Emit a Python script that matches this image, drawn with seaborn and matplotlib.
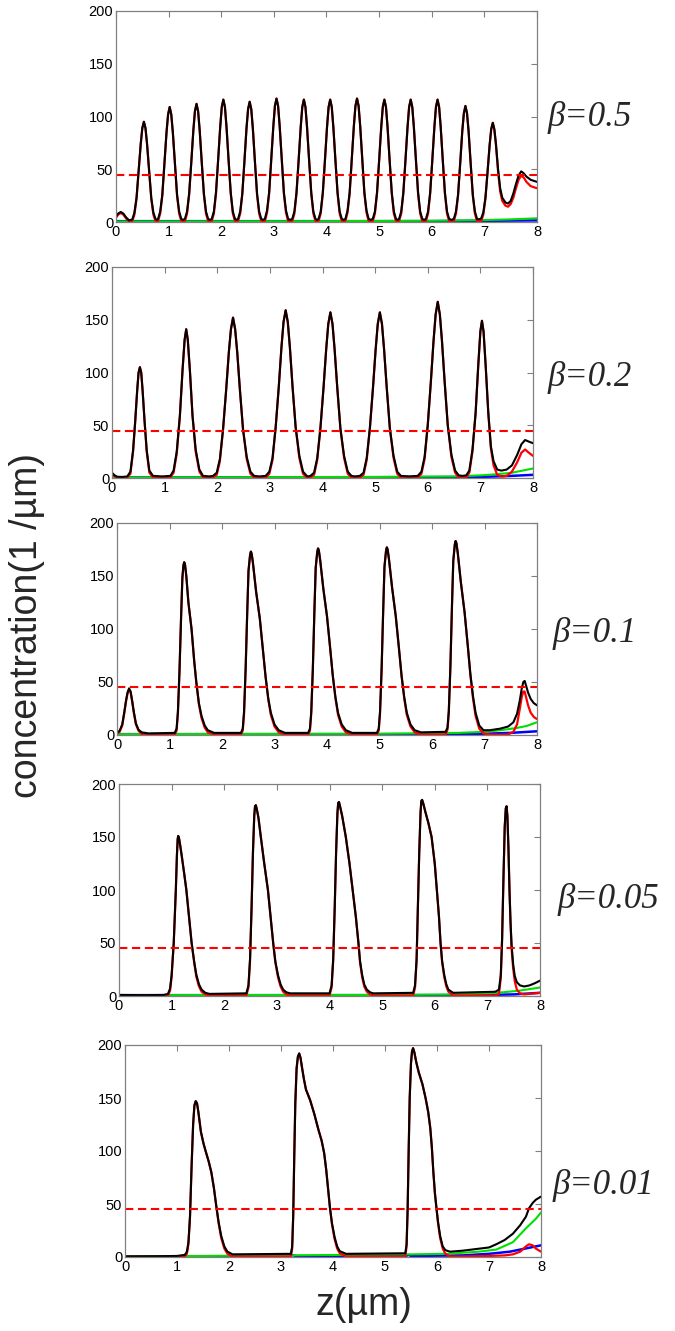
import matplotlib
matplotlib.use("Agg")
import matplotlib.pyplot as plt
import seaborn as sns

# ---- donnees ----
betas = ["β=0.5", "β=0.2", "β=0.1", "β=0.05", "β=0.01"]
threshold = 45
x_ticks = [0, 1, 2, 3, 4, 5, 6, 7, 8]
y_ticks = [0, 50, 100, 150, 200]

# beta = 0.5
z1 = [0.00, 0.04, 0.09, 0.14, 0.19, 0.25,
      0.31, 0.35, 0.39, 0.43, 0.47, 0.50, 0.53, 0.56, 0.59, 0.63, 0.67, 0.71, 0.75, 0.775,
      0.80, 0.84, 0.88, 0.92, 0.96, 0.99, 1.02, 1.05, 1.08, 1.12, 1.16, 1.20, 1.24, 1.275,
      1.31, 1.35, 1.39, 1.43, 1.47, 1.50, 1.53, 1.56, 1.59, 1.63, 1.67, 1.71, 1.75, 1.785,
      1.82, 1.86, 1.90, 1.94, 1.98, 2.01, 2.04, 2.07, 2.10, 2.14, 2.18, 2.22, 2.26, 2.29,
      2.32, 2.36, 2.40, 2.44, 2.48, 2.51, 2.54, 2.57, 2.60, 2.64, 2.68, 2.72, 2.76, 2.795,
      2.83, 2.87, 2.91, 2.95, 2.99, 3.02, 3.05, 3.08, 3.11, 3.15, 3.19, 3.23, 3.27, 3.31,
      3.35, 3.39, 3.43, 3.47, 3.51, 3.54, 3.57, 3.60, 3.63, 3.67, 3.71, 3.75, 3.79, 3.82,
      3.85, 3.89, 3.93, 3.97, 4.01, 4.04, 4.07, 4.10, 4.13, 4.17, 4.21, 4.25, 4.29, 4.325,
      4.36, 4.40, 4.44, 4.48, 4.52, 4.55, 4.58, 4.61, 4.64, 4.68, 4.72, 4.76, 4.80, 4.84,
      4.88, 4.92, 4.96, 5.00, 5.04, 5.07, 5.10, 5.13, 5.16, 5.20, 5.24, 5.28, 5.32, 5.35,
      5.38, 5.42, 5.46, 5.50, 5.54, 5.57, 5.60, 5.63, 5.66, 5.70, 5.74, 5.78, 5.82, 5.855,
      5.89, 5.93, 5.97, 6.01, 6.05, 6.08, 6.11, 6.14, 6.17, 6.21, 6.25, 6.29, 6.33, 6.375,
      6.42, 6.46, 6.50, 6.54, 6.58, 6.61, 6.64, 6.67, 6.70, 6.74, 6.78, 6.82, 6.86, 6.90,
      6.94, 6.98, 7.02, 7.06, 7.10, 7.13, 7.16, 7.19, 7.22, 7.26, 7.30, 7.34,
      7.40, 7.45, 7.50, 7.55, 7.60, 7.65, 7.70, 7.75, 7.80, 7.88, 8.00]
black1 = [5, 8, 9.5, 8, 4.5, 1.5,
          2.5, 9, 23, 48, 74, 89, 95, 89, 74, 48, 23, 9, 3, 2,
          3, 10, 26, 55, 85, 102, 109, 102, 85, 55, 26, 10, 3, 2,
          3, 10, 27, 56, 87, 105, 112, 105, 87, 56, 27, 10, 3, 2,
          3, 10, 28, 58, 90, 109, 116, 109, 90, 58, 28, 10, 3, 2,
          3, 10, 27, 57, 89, 107, 114, 107, 89, 57, 27, 10, 3, 2,
          3, 11, 28, 59, 91, 110, 117, 110, 91, 59, 28, 11, 3, 2,
          3, 10, 28, 58, 90, 109, 116, 109, 90, 58, 28, 10, 3, 2,
          3, 10, 28, 58, 90, 109, 116, 109, 90, 58, 28, 10, 3, 2,
          3, 11, 28, 59, 91, 110, 117, 110, 91, 59, 28, 11, 3, 2,
          3, 10, 28, 58, 90, 109, 116, 109, 90, 58, 28, 10, 3, 2,
          3, 10, 28, 58, 90, 109, 116, 109, 90, 58, 28, 10, 3, 2,
          3, 10, 28, 58, 90, 109, 116, 109, 90, 58, 28, 10, 3, 2,
          3, 10, 26, 55, 86, 103, 110, 103, 86, 55, 26, 10, 3, 2.5,
          3.5, 9, 23, 47, 73, 88, 94, 88, 74, 50, 32, 23,
          18.5, 17.5, 20, 27, 36, 44, 48, 46, 43, 40, 38]
red1 = [4, 7, 8.5, 7, 3.5, 0.5,
        1, 7, 22, 48, 74, 89, 95, 89, 74, 48, 22, 7, 1, 0.3,
        1, 8, 25, 55, 85, 102, 109, 102, 85, 55, 25, 8, 1, 0.3,
        1, 8, 26, 56, 87, 105, 112, 105, 87, 56, 26, 8, 1, 0.3,
        1, 8, 27, 58, 90, 109, 116, 109, 90, 58, 27, 8, 1, 0.3,
        1, 8, 26, 57, 89, 107, 114, 107, 89, 57, 26, 8, 1, 0.3,
        1, 9, 27, 59, 91, 110, 117, 110, 91, 59, 27, 9, 1, 0.3,
        1, 8, 27, 58, 90, 109, 116, 109, 90, 58, 27, 8, 1, 0.3,
        1, 8, 27, 58, 90, 109, 116, 109, 90, 58, 27, 8, 1, 0.3,
        1, 9, 27, 59, 91, 110, 117, 110, 91, 59, 27, 9, 1, 0.3,
        1, 8, 27, 58, 90, 109, 116, 109, 90, 58, 27, 8, 1, 0.3,
        1, 8, 27, 58, 90, 109, 116, 109, 90, 58, 27, 8, 1, 0.3,
        1, 8, 27, 58, 90, 109, 116, 109, 90, 58, 27, 8, 1, 0.3,
        1, 8, 25, 55, 86, 103, 110, 103, 86, 55, 25, 8, 1, 0.5,
        1, 7, 22, 47, 73, 88, 94, 87, 73, 48, 29, 20,
        15.5, 14.5, 17, 23, 32, 40, 44, 42, 38, 34, 32]
zg1 = [0, 4, 6, 7, 7.5, 8]
green1 = [0.5, 0.8, 1.2, 1.8, 2.5, 3.5]
zb1 = [0, 6, 8]
blue1 = [0.8, 0.8, 1.5]

# beta = 0.2
z2 = [0.00, 0.05, 0.10, 0.20,
      0.29, 0.35, 0.40, 0.44, 0.48, 0.505, 0.53, 0.555, 0.58, 0.62, 0.66, 0.71, 0.78, 0.95,
      1.11, 1.17, 1.23, 1.29, 1.34, 1.38, 1.41, 1.44, 1.48, 1.53, 1.59, 1.66, 1.73, 1.85,
      1.92, 1.99, 2.05, 2.11, 2.17, 2.22, 2.26, 2.30, 2.34, 2.38, 2.43, 2.49, 2.56, 2.63, 2.70, 2.80,
      2.92, 2.99, 3.05, 3.11, 3.17, 3.22, 3.26, 3.30, 3.34, 3.38, 3.43, 3.49, 3.56, 3.63, 3.70, 3.725,
      3.77, 3.84, 3.90, 3.96, 4.02, 4.07, 4.11, 4.15, 4.19, 4.23, 4.28, 4.34, 4.41, 4.48, 4.55, 4.62,
      4.71, 4.78, 4.84, 4.90, 4.96, 5.01, 5.05, 5.09, 5.13, 5.17, 5.22, 5.28, 5.35, 5.42, 5.49, 5.65,
      5.81, 5.88, 5.94, 6.00, 6.06, 6.11, 6.15, 6.19, 6.23, 6.27, 6.32, 6.38, 6.45, 6.52, 6.59, 6.66,
      6.73, 6.79, 6.85, 6.91, 6.96, 7.00, 7.03, 7.06, 7.10, 7.15, 7.20, 7.25, 7.32,
      7.40, 7.50, 7.60, 7.70, 7.78, 7.85, 7.92, 8.00]
black2 = [5, 2.5, 1.2, 1,
          1.5, 6, 26, 53, 84, 100, 105, 100, 84, 53, 26, 7, 2, 1.5,
          2, 7, 25, 59, 102, 131, 141, 131, 102, 59, 27, 8, 2, 1.5,
          2, 5, 18, 46, 84, 119, 141, 152, 141, 119, 84, 46, 20, 6, 2, 1.5,
          2, 6, 19, 48, 87, 124, 148, 159, 148, 124, 87, 48, 21, 6, 2, 1.5,
          2, 5, 19, 47, 86, 122, 146, 157, 146, 122, 86, 47, 21, 6, 2, 1.5,
          2, 5, 19, 47, 86, 122, 146, 157, 146, 122, 86, 47, 21, 6, 2, 1.5,
          2, 6, 20, 50, 92, 130, 155, 167, 155, 130, 92, 50, 22, 7, 2.5, 2,
          2.5, 7, 27, 62, 107, 139, 149, 139, 107, 62, 30, 16, 8,
          7, 8, 12, 22, 32, 36, 34.5, 33]
red2 = [4, 1.5, 0.6, 0.3,
        0.5, 4, 25, 53, 84, 100, 105, 100, 84, 53, 25, 5, 0.5, 0.3,
        0.5, 5, 23, 59, 102, 131, 141, 131, 102, 59, 25, 6, 0.5, 0.3,
        0.5, 3, 16, 46, 84, 119, 141, 152, 141, 119, 84, 46, 18, 4, 0.5, 0.3,
        0.5, 4, 17, 48, 87, 124, 148, 159, 148, 124, 87, 48, 19, 4, 0.5, 0.3,
        0.5, 3, 17, 47, 86, 122, 146, 157, 146, 122, 86, 47, 19, 4, 0.5, 0.3,
        0.5, 3, 17, 47, 86, 122, 146, 157, 146, 122, 86, 47, 19, 4, 0.5, 0.3,
        0.5, 4, 18, 50, 92, 130, 155, 167, 155, 130, 92, 50, 20, 5, 0.5, 0.3,
        0.5, 5, 25, 62, 107, 139, 149, 139, 107, 62, 28, 12, 3,
        1.5, 2, 6, 15, 24, 27, 24, 21]
zg2 = [0, 5.0, 6.5, 7.0, 7.3, 7.6, 8.0]
green2 = [0.5, 1, 1.5, 2.5, 3.5, 5, 9]
zb2 = [0, 6, 7, 7.5, 8]
blue2 = [0.5, 0.8, 1, 1.8, 3]

# beta = 0.1
z3 = [0.00, 0.05, 0.10, 0.14, 0.17, 0.20, 0.23, 0.26, 0.29, 0.32, 0.36, 0.41, 0.47, 0.60,
      1.10, 1.135, 1.16, 1.19, 1.22, 1.245, 1.265, 1.28, 1.295, 1.32, 1.36, 1.42, 1.47, 1.51,
      1.56, 1.61, 1.67, 1.73, 1.85,
      2.36, 2.395, 2.42, 2.45, 2.48, 2.505, 2.535, 2.55, 2.565, 2.59, 2.65, 2.72, 2.78, 2.83,
      2.88, 2.93, 3.00, 3.08, 3.20,
      3.64, 3.675, 3.70, 3.73, 3.76, 3.785, 3.815, 3.83, 3.845, 3.87, 3.93, 4.00, 4.06, 4.11,
      4.16, 4.21, 4.28, 4.36, 4.48,
      4.95, 4.985, 5.01, 5.04, 5.07, 5.095, 5.125, 5.14, 5.155, 5.18, 5.24, 5.31, 5.37, 5.42,
      5.47, 5.52, 5.59, 5.67, 5.79,
      6.26, 6.295, 6.32, 6.35, 6.38, 6.405, 6.435, 6.45, 6.465, 6.49, 6.55, 6.62, 6.68, 6.73,
      6.78, 6.83, 6.90, 6.98,
      7.10, 7.30, 7.45, 7.55, 7.62, 7.67, 7.71, 7.74, 7.765, 7.79, 7.83, 7.88, 7.94, 8.00]
black3 = [2, 4, 10, 22, 32, 40, 44, 41, 32, 22, 11, 5, 2.5, 1.5,
          2, 6, 22, 60, 110, 148, 160, 163, 161, 150, 125, 100, 70, 50, 30, 18, 9, 4.5, 2,
          2, 6, 22, 62, 115, 155, 170, 173, 171, 162, 135, 110, 80, 55, 35, 21, 10, 4.5, 2,
          2, 6, 22, 62, 117, 158, 173, 176, 174, 165, 138, 112, 82, 56, 36, 21, 10, 4.5, 2,
          2, 6, 22, 62, 117, 159, 174, 177, 175, 166, 139, 112, 82, 56, 36, 21, 10, 4.5, 2.5,
          3, 7, 23, 64, 121, 164, 180, 183, 181, 172, 144, 116, 85, 58, 37, 21, 9, 4.5,
          4.5, 6, 8, 12, 20, 32, 44, 50, 51, 47, 40, 34, 30, 28]
red3 = [1, 3, 9, 21, 31, 39, 43, 40, 31, 21, 10, 4, 1, 0.3,
        0.5, 4, 20, 60, 110, 148, 160, 163, 161, 150, 125, 100, 70, 50, 29, 16, 7, 2.5, 0.5,
        0.5, 4, 20, 62, 115, 155, 170, 173, 171, 162, 135, 110, 80, 55, 34, 19, 8, 2.5, 0.5,
        0.5, 4, 20, 62, 117, 158, 173, 176, 174, 165, 138, 112, 82, 56, 35, 19, 8, 2.5, 0.5,
        0.5, 4, 20, 62, 117, 159, 174, 177, 175, 166, 139, 112, 82, 56, 35, 19, 8, 2.5, 0.5,
        0.5, 5, 21, 64, 121, 164, 180, 183, 181, 172, 144, 116, 85, 57, 35, 18, 6, 1.5,
        0.5, 0.3, 0.5, 3, 10, 24, 36, 41, 41, 36, 28, 21, 17, 15]
zg3 = [0, 5, 6.5, 7.0, 7.3, 7.6, 7.8, 8.0]
green3 = [0.8, 1.2, 2, 3, 4.5, 6.5, 8.5, 12]
zb3 = [0, 6, 7, 7.5, 8]
blue3 = [0.8, 0.8, 1.2, 2, 3.5]

# beta = 0.05
z4 = [0.00, 0.50, 0.85,
      0.93, 0.97, 1.00, 1.04, 1.08, 1.10, 1.115, 1.125, 1.14, 1.16, 1.19, 1.24, 1.28, 1.33,
      1.38, 1.43, 1.47, 1.52, 1.57, 1.64, 1.72,
      2.42, 2.46, 2.49, 2.52, 2.545, 2.57, 2.585, 2.60, 2.62, 2.65, 2.69, 2.76, 2.83, 2.88,
      2.93, 2.97, 3.02, 3.07, 3.12, 3.18, 3.25,
      4.00, 4.04, 4.07, 4.10, 4.125, 4.15, 4.165, 4.18, 4.20, 4.24, 4.31, 4.38, 4.44, 4.50,
      4.55, 4.58, 4.62, 4.66, 4.71, 4.77, 4.83,
      5.59, 5.625, 5.655, 5.68, 5.705, 5.73, 5.745, 5.76, 5.78, 5.82, 5.88, 5.94, 6.00, 6.04,
      6.08, 6.11, 6.14, 6.18, 6.22, 6.26, 6.35,
      7.15, 7.22, 7.255, 7.28, 7.305, 7.33, 7.35, 7.365, 7.38, 7.40, 7.42, 7.44, 7.46, 7.49,
      7.52, 7.56, 7.62, 7.70, 7.80, 7.90, 8.00]
black4 = [1, 0.8, 1,
          2, 7, 20, 50, 100, 132, 148, 151, 149, 143, 133, 115, 100, 75,
          50, 32, 20, 11, 6, 3, 2,
          2.5, 10, 35, 85, 135, 170, 179, 180, 176, 168, 152, 125, 100, 75,
          50, 33, 20, 11, 6, 3.5, 2.5,
          2.5, 10, 35, 85, 135, 172, 182, 183, 179, 170, 150, 125, 100, 75,
          50, 33, 20, 11, 6, 3.5, 2.5,
          3, 10, 35, 85, 135, 173, 184, 185, 182, 174, 163, 150, 125, 100,
          75, 50, 33, 20, 11, 6, 3,
          4, 6, 20, 55, 110, 160, 177, 179, 170, 140, 100, 70, 48, 30,
          19, 13, 10, 9, 10, 12, 14.5]
red4 = [0.5, 0.3, 0.5,
        0.5, 5, 18, 50, 100, 132, 148, 151, 149, 143, 133, 115, 100, 75,
        50, 31, 18, 9, 4, 1.5, 0.5,
        0.5, 8, 33, 85, 135, 170, 179, 180, 176, 168, 152, 125, 100, 75,
        50, 32, 18, 9, 4, 1.5, 0.5,
        0.5, 8, 33, 85, 135, 172, 182, 183, 179, 170, 150, 125, 100, 75,
        50, 32, 18, 9, 4, 1.5, 0.5,
        0.5, 8, 33, 85, 135, 173, 184, 185, 182, 174, 163, 150, 125, 100,
        75, 50, 32, 18, 9, 4, 0.5,
        0.5, 2, 17, 53, 110, 160, 177, 179, 170, 140, 100, 68, 45, 26,
        14, 6, 2.5, 1.5, 2, 2.5, 3]
zg4 = [0, 5, 6.5, 7.0, 7.3, 7.6, 7.8, 8.0]
green4 = [0.8, 1, 1.5, 2.5, 3.5, 5, 6.5, 8]
zb4 = [0, 6, 7, 7.5, 8]
blue4 = [0.8, 0.8, 1, 1.5, 3]

# beta = 0.01
z5 = [0.00, 0.60, 1.00,
      1.15, 1.19, 1.22, 1.25, 1.28, 1.31, 1.335, 1.36, 1.385, 1.41, 1.46, 1.51, 1.55, 1.61,
      1.66, 1.71, 1.75, 1.80, 1.85, 1.91, 1.97, 2.07,
      3.19, 3.215, 3.235, 3.255, 3.275, 3.30, 3.325, 3.35, 3.375, 3.40, 3.44, 3.48, 3.56, 3.64,
      3.72, 3.78, 3.83, 3.87, 3.91, 3.94, 3.98, 4.03, 4.08, 4.13, 4.25,
      5.39, 5.415, 5.435, 5.455, 5.475, 5.50, 5.52, 5.54, 5.565, 5.60, 5.65, 5.72, 5.78, 5.83,
      5.87, 5.90, 5.93, 5.96, 5.99, 6.02, 6.06, 6.11, 6.16, 6.25,
      6.50, 7.00, 7.14, 7.30, 7.46, 7.60, 7.71, 7.77, 7.84, 7.90, 8.00]
black5 = [0.5, 0.7, 1,
          2, 5, 14, 38, 85, 125, 143, 147, 145, 137, 118, 107, 100, 90,
          80, 65, 50, 33, 20, 10, 5, 2.5,
          3, 10, 40, 95, 145, 178, 189, 192, 188, 180, 168, 158, 148, 135,
          120, 110, 98, 82, 62, 47, 32, 19, 10, 5.5, 3,
          3.5, 12, 45, 100, 150, 183, 194, 197, 193, 184, 174, 163, 150, 137,
          122, 104, 80, 60, 46, 33, 20, 10, 6.5, 5,
          6, 9, 12, 16, 22, 30, 38, 46, 51, 54, 57]
red5 = [0.3, 0.3, 0.3,
        0.5, 3, 12, 38, 85, 125, 143, 147, 145, 137, 118, 107, 100, 90,
        80, 65, 50, 32, 18, 8, 3, 0.5,
        0.5, 8, 38, 95, 145, 178, 189, 192, 188, 180, 168, 158, 148, 135,
        120, 110, 98, 82, 62, 47, 31, 17, 8, 3.5, 0.5,
        0.5, 10, 43, 100, 150, 183, 194, 197, 193, 184, 174, 163, 150, 137,
        122, 104, 80, 60, 46, 32, 18, 8, 3, 0.5,
        0.5, 1, 1.2, 1.5, 2.5, 5, 10, 12, 11, 8, 5]
zg5 = [0, 3, 5.5, 6.2, 6.8, 7.14, 7.46, 7.71, 7.9, 8.0]
green5 = [0.5, 1.5, 2.5, 3, 5, 7, 14, 27, 36, 42]
zb5 = [0, 3.1, 3.2, 3.3, 5.4, 5.45, 5.5, 6.5, 7.0, 7.4, 7.7, 8.0]
blue5 = [0.5, 0.8, 2, 0.8, 1, 2, 1, 1.5, 3, 5, 8, 11]

panels = [
    (z1, black1, red1, zg1, green1, zb1, blue1),
    (z2, black2, red2, zg2, green2, zb2, blue2),
    (z3, black3, red3, zg3, green3, zb3, blue3),
    (z4, black4, red4, zg4, green4, zb4, blue4),
    (z5, black5, red5, zg5, green5, zb5, blue5),
]

# ---- mise en page (pixels: gauche, haut, droite, bas) ----
W, H = 675, 1331
boxes = [(116, 11, 537, 222), (112, 267, 533, 478), (117, 523, 537, 735),
         (119, 784, 540, 996), (125, 1045, 541, 1257)]
beta_pos = [(548, 118), (548, 378), (553, 633), (558, 900), (553, 1185)]

sns.set_style("white")
plt.rcParams['font.family'] = ['Liberation Sans', 'DejaVu Sans']

fig = plt.figure(figsize=(W / 100, H / 100), dpi=100)


def tracer_panneau(ax, data):
    z, k, r, zg, g, zb, b = data
    sns.lineplot(x=zb, y=b, ax=ax, color='#0000ff', lw=1.8, errorbar=None)
    sns.lineplot(x=zg, y=g, ax=ax, color='#00e000', lw=1.5, errorbar=None)
    sns.lineplot(x=z, y=r, ax=ax, color='#ff0000', lw=1.6, errorbar=None)
    sns.lineplot(x=z, y=k, ax=ax, color='black', lw=1.5, errorbar=None)
    ax.axhline(threshold, color='#ff0000', lw=1.5, ls=(0, (4, 2.2)))
    ax.set_xlim(0, 8)
    ax.set_ylim(0, 200)
    ax.set_xticks(x_ticks)
    ax.set_yticks(y_ticks)
    ax.set_xlabel('')
    ax.set_ylabel('')
    ax.tick_params(direction='in', top=True, right=True, length=4, width=0.8,
                   color='#808080', labelsize=10.5, labelcolor='black', pad=2)
    for sp in ax.spines.values():
        sp.set_color('#808080')
        sp.set_linewidth(0.9)


for data, (l, t, r, b), label, (bx, by) in zip(panels, boxes, betas, beta_pos):
    ax = fig.add_axes([l / W, 1 - b / H, (r - l) / W, (b - t) / H])
    tracer_panneau(ax, data)
    fig.text(bx / W, 1 - by / H, label, ha='left', va='center', fontsize=25,
             family=['Liberation Serif', 'DejaVu Serif'], style='italic')

fig.text(27 / W, 1 - 625 / H, 'concentration(1 /µm)', rotation=90,
         ha='center', va='center', fontsize=27)
fig.text(364 / W, 1 - 1305 / H, 'z(µm)', ha='center', va='center', fontsize=27)

fig.savefig('out.png', dpi=100)
